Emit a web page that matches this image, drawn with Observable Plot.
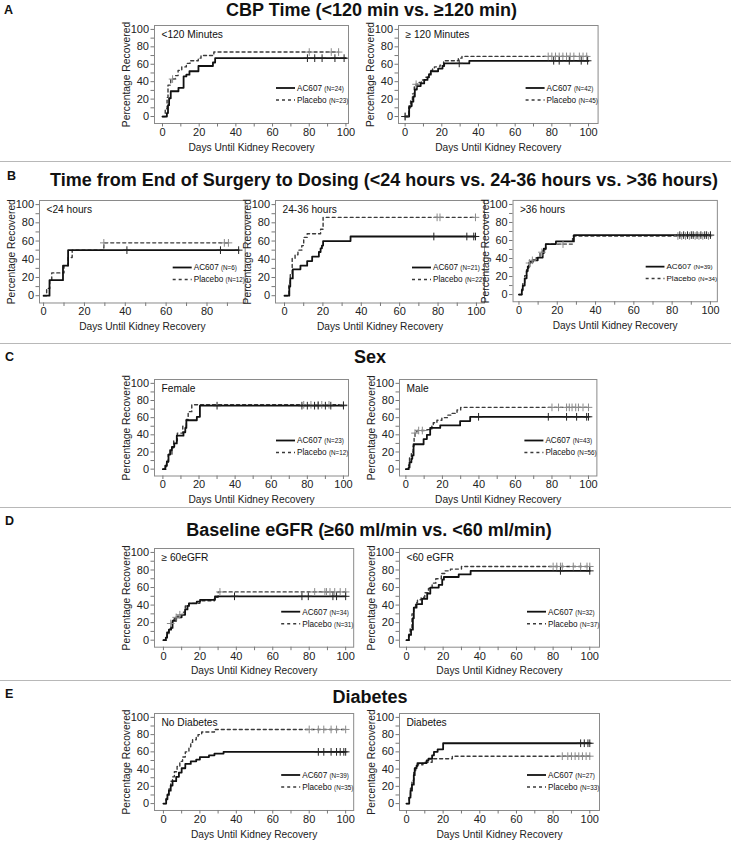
<!DOCTYPE html>
<html><head><meta charset="utf-8">
<script src="https://cdn.jsdelivr.net/npm/d3@7"></script>
<script src="https://cdn.jsdelivr.net/npm/@observablehq/plot@0.6"></script>
<style>
body{margin:0;background:#fff;}
#page{position:relative;width:731px;height:843px;overflow:hidden;background:#fff;font-family:"Liberation Sans",Arial,sans-serif;color:#111;}
.title{position:absolute;font-weight:bold;font-size:18px;white-space:nowrap;transform:translate(-50%,-50%);line-height:1;}
.letter{position:absolute;font-weight:bold;font-size:12.5px;transform:translateY(-50%);line-height:1;}
.divider{position:absolute;left:0;width:731px;height:0;border-top:1.6px solid #b8b8b8;}
.panel{position:absolute;}
</style></head><body><div id="page"></div>
<script>
// ---------- DATA ----------
const sectionLetters = ["A", "B", "C", "D", "E"];
const sectionTitles = [
  "CBP Time (<120 min vs. \u2265120 min)",
  "Time from End of Surgery to Dosing (<24 hours vs. 24-36 hours vs. >36 hours)",
  "Sex",
  "Baseline eGFR (\u226560 ml/min vs. <60 ml/min)",
  "Diabetes"
];
const panelLabels = ["<120 Minutes", "\u2265 120 Minutes", "<24 hours", "24-36 hours", ">36 hours",
  "Female", "Male", "\u2265 60eGFR", "<60 eGFR", "No Diabetes", "Diabetes"];
const nAC607 = [24, 42, 6, 21, 39, 23, 43, 34, 32, 39, 27];
const nPlacebo = [23, 45, 12, 22, 34, 12, 56, 31, 37, 35, 33];
const seriesNames = ["AC607", "Placebo"];
const yTickValues = [0, 10, 20, 30, 40, 50, 60, 70, 80, 90, 100];
const xTickValues = [0, 10, 20, 30, 40, 50, 60, 70, 80, 90, 100];
const xTickValuesShort = [0, 10, 20, 30, 40, 50, 60, 70, 80, 90];
const yAxisTitle = "Percentage Recovered";
const xAxisTitle = "Days Until Kidney Recovery";

// Kaplan-Meier step points [day, % recovered]; end = last follow-up day; censored days
const cbpLt120AC607 = [[0,0],[2.4,4],[3,13],[3.6,21],[4.5,29],[8.7,33],[11.5,46],[13,48],[14.7,52],[19.6,58],[27.5,62],[28.7,67]];
const cbpLt120AC607End = 100, cbpLt120AC607Cens = [79, 83, 87, 94, 99];
const cbpLt120Placebo = [[0,0],[1.5,9],[2.5,22],[3,36],[4.5,43],[7,47],[8.5,53],[10.5,57],[13,61],[15,64],[19.5,67],[21,70],[28,74]];
const cbpLt120PlaceboEnd = 96, cbpLt120PlaceboCens = [5.5, 80, 92, 96];

const cbpGe120AC607 = [[0,0],[2.2,12],[3.6,17],[4.5,23],[5.3,31],[6.4,35],[8.5,38],[10.4,42],[12.2,45],[13,48],[14,52],[18,55],[20.4,58],[21.3,61],[35,64]];
const cbpGe120AC607End = 100, cbpGe120AC607Cens = [0, 29.5, 81, 84, 89.5, 96, 99.5];
const cbpGe120Placebo = [[0,0],[2,10],[3,18],[4,26],[5,34],[6,37],[7,39],[9,42],[11,45],[13,49],[14,53],[15,56],[16,57],[19,59],[21,64],[29,67],[31,69]];
const cbpGe120PlaceboEnd = 100, cbpGe120PlaceboCens = [0, 6, 78, 80, 82, 84, 86, 88, 90, 92, 95, 97, 99];

const dosLt24AC607 = [[0,0],[2.9,17],[9.5,33],[12,50]];
const dosLt24AC607End = 95.5, dosLt24AC607Cens = [40.8, 86.6, 95.5];
const dosLt24Placebo = [[0,0],[1.5,8],[3,17],[4,25],[10,33],[12,42],[14,50],[29.5,58]];
const dosLt24PlaceboEnd = 91, dosLt24PlaceboCens = [29.5, 88.5, 90.5];

const dos24to36AC607 = [[0,0],[2.5,10],[3,19],[4.3,29],[8.3,33],[11.8,38],[14.4,43],[17.9,48],[18.8,52],[19.5,55],[20.1,60],[34.4,65]];
const dos24to36AC607End = 99.5, dos24to36AC607Cens = [77.8, 95, 98.6, 99.5];
const dos24to36Placebo = [[0,0],[2.3,14],[3,23],[4,41],[5.5,45],[7,50],[9,55],[10,64],[11.8,68],[18.8,73],[20.1,86]];
const dos24to36PlaceboEnd = 99.5, dos24to36PlaceboCens = [79.5, 81, 99.5];

const dosGt36AC607 = [[0,0],[1.5,5],[2,10],[3,18],[4,26],[4.6,31],[5.5,36],[7.2,38],[9.8,41],[12.4,46],[13,51],[14,56],[19.3,59],[28.7,66]];
const dosGt36AC607End = 100, dosGt36AC607Cens = [84, 86, 88, 90, 91, 93, 95, 97, 98, 100];
const dosGt36Placebo = [[0,0],[1.5,6],[2,12],[3,21],[4,29],[5,35],[6,38],[9,41],[11,47],[12.5,50],[14,56],[28,65]];
const dosGt36PlaceboEnd = 100, dosGt36PlaceboCens = [5.5, 7, 12, 23, 83, 85, 87, 89, 92, 94, 96, 99];

const femaleAC607 = [[0,0],[1.3,4],[2.2,9],[3.1,17],[4,22],[5,26],[6.3,30],[7.7,39],[11.4,43],[12.4,48],[13,57],[18.8,61],[20.5,74]];
const femaleAC607End = 100, femaleAC607Cens = [30, 77, 80, 84, 86, 90, 93, 100];
const femalePlacebo = [[0,0],[2,8],[3,17],[5,25],[6,33],[8,42],[11,50],[13,58],[14,67],[16,75]];
const femalePlaceboEnd = 100, femalePlaceboCens = [78, 82, 86, 88, 92, 100];

const maleAC607 = [[0,0],[1.5,2],[2,8],[3,12],[3.5,16],[4.2,29],[9.7,35],[11.5,40],[13.3,48],[18.8,51],[29.7,56],[35.2,61]];
const maleAC607End = 100, maleAC607Cens = [39.8, 78, 88, 93.5, 99, 100];
const malePlacebo = [[0,0],[1.5,5],[2,13],[3,20],[4,27],[4.5,37],[5,42],[6,45],[11.5,46],[14.2,50],[15,54],[17,57],[19.7,60],[23,63],[25,65],[28,69],[30,72]];
const malePlaceboEnd = 100, malePlaceboCens = [5, 7, 9, 80, 83.6, 88, 89.5, 91, 93, 94.5, 97, 100];

const egfrGe60AC607 = [[0,0],[1.3,3],[2,9],[3,12],[4.2,14],[5,22],[7,26],[10,29],[11.9,35],[13.2,39],[14,42],[18.3,44],[20.1,46],[28.3,50]];
const egfrGe60AC607End = 100, egfrGe60AC607Cens = [39, 76, 79.5, 93, 95, 100];
const egfrGe60Placebo = [[0,0],[2,6],[3,13],[4,19],[5,23],[6,26],[8,29],[11,32],[12,39],[14,42],[20,45],[28,49],[30,55]];
const egfrGe60PlaceboEnd = 100, egfrGe60PlaceboCens = [4, 7, 9, 31, 83, 88.6, 89.5, 91.4, 94, 97, 100];

const egfrLt60AC607 = [[0,0],[1.3,6],[2.5,12],[3.5,25],[4,37],[5.5,41],[8.5,47],[11.3,53],[13,60],[17.6,63],[19.5,69],[20.4,72],[28.5,75],[35,79]];
const egfrLt60AC607End = 100, egfrLt60AC607Cens = [84, 100];
const egfrLt60Placebo = [[0,0],[1.5,8],[2,14],[3,30],[4,38],[5,43],[6,46],[8,49],[10,54],[12,59],[14,65],[16,70],[19,76],[21,79],[24,81],[30,84]];
const egfrLt60PlaceboEnd = 100, egfrLt60PlaceboCens = [80, 82, 84, 85, 91, 95, 98.5, 100];

const noDiabAC607 = [[0,0],[1.5,5],[2.2,10],[3,15],[4,21],[5,26],[7,31],[8.5,36],[10,41],[12,46],[15,49],[18,51],[20,54],[25,56],[28,58],[33,60]];
const noDiabAC607End = 100, noDiabAC607Cens = [85, 88, 92, 95, 97, 99, 100];
const noDiabPlacebo = [[0,0],[1.5,6],[2.2,11],[3,17],[4,26],[5,31],[6,37],[7.5,43],[9,49],[10.5,54],[12,60],[14,66],[15,71],[16,74],[18,77],[19,80],[21,83],[28,86]];
const noDiabPlaceboEnd = 100, noDiabPlaceboCens = [80, 85, 88, 92, 95, 100];

const diabAC607 = [[0,0],[1.5,7],[2.2,15],[3,22],[4,33],[4.5,41],[5.5,44],[6,47],[11,50],[12,52],[14,56],[15,60],[17,63],[20,70]];
const diabAC607End = 100, diabAC607Cens = [95, 97, 99, 100];
const diabPlacebo = [[0,0],[1.5,9],[2.2,18],[3,27],[4,36],[5,42],[6,45],[9,48],[14,52],[25,55]];
const diabPlaceboEnd = 100, diabPlaceboCens = [85, 88, 90, 92, 94, 96, 98, 100];

const ac607Curves = [cbpLt120AC607, cbpGe120AC607, dosLt24AC607, dos24to36AC607, dosGt36AC607, femaleAC607, maleAC607, egfrGe60AC607, egfrLt60AC607, noDiabAC607, diabAC607];
const ac607Ends = [cbpLt120AC607End, cbpGe120AC607End, dosLt24AC607End, dos24to36AC607End, dosGt36AC607End, femaleAC607End, maleAC607End, egfrGe60AC607End, egfrLt60AC607End, noDiabAC607End, diabAC607End];
const ac607Cens = [cbpLt120AC607Cens, cbpGe120AC607Cens, dosLt24AC607Cens, dos24to36AC607Cens, dosGt36AC607Cens, femaleAC607Cens, maleAC607Cens, egfrGe60AC607Cens, egfrLt60AC607Cens, noDiabAC607Cens, diabAC607Cens];
const placeboCurves = [cbpLt120Placebo, cbpGe120Placebo, dosLt24Placebo, dos24to36Placebo, dosGt36Placebo, femalePlacebo, malePlacebo, egfrGe60Placebo, egfrLt60Placebo, noDiabPlacebo, diabPlacebo];
const placeboEnds = [cbpLt120PlaceboEnd, cbpGe120PlaceboEnd, dosLt24PlaceboEnd, dos24to36PlaceboEnd, dosGt36PlaceboEnd, femalePlaceboEnd, malePlaceboEnd, egfrGe60PlaceboEnd, egfrLt60PlaceboEnd, noDiabPlaceboEnd, diabPlaceboEnd];
const placeboCens = [cbpLt120PlaceboCens, cbpGe120PlaceboCens, dosLt24PlaceboCens, dos24to36PlaceboCens, dosGt36PlaceboCens, femalePlaceboCens, malePlaceboCens, egfrGe60PlaceboCens, egfrLt60PlaceboCens, noDiabPlaceboCens, diabPlaceboCens];

// ---------- LAYOUT ----------
const dividerY = [162, 344, 508, 681];
const titleLayout = [[371.5, 10], [384, 180], [370, 357], [369, 530], [370, 697]];
const letterLayout = [[4, 10], [7, 176], [5, 357], [5, 521], [5, 694]];
const panelLayout = [
  {f: [154.3, 348.3, 25, 123], xd: [-4.36, 101.4]},
  {f: [397.7, 597.3, 25, 123], xd: [-3.6, 105.2]},
  {f: [39.3, 245, 199.5, 302], xd: [-2, 98.7], short: true},
  {f: [275, 484, 199.5, 302], xd: [-4.7, 104.2]},
  {f: [513.3, 720, 199.5, 302], xd: [-3.1, 103.6]},
  {f: [154.3, 348.3, 378.5, 475], xd: [-4.65, 102.8]},
  {f: [399.3, 596.7, 378.5, 475], xd: [-3.5, 104.6]},
  {f: [154.3, 353.5, 548, 646.7], xd: [-4.9, 104.4]},
  {f: [399, 599, 548, 646.7], xd: [-3.8, 105.3]},
  {f: [154.3, 353.5, 713, 810], xd: [-4.9, 104.4]},
  {f: [399, 599, 713, 810], xd: [-3.8, 105.3]}
];
const yDomain = [-8, 104.5];

const page = document.getElementById("page");
dividerY.forEach(y => {
  const d = document.createElement("div"); d.className = "divider"; d.style.top = (y - 0.8) + "px"; page.appendChild(d);
});
sectionTitles.forEach((t, i) => {
  const d = document.createElement("div"); d.className = "title"; d.textContent = t;
  d.style.left = titleLayout[i][0] + "px"; d.style.top = titleLayout[i][1] + "px"; page.appendChild(d);
  const l = document.createElement("div"); l.className = "letter"; l.textContent = sectionLetters[i];
  l.style.left = letterLayout[i][0] + "px"; l.style.top = letterLayout[i][1] + "px"; page.appendChild(l);
});

function stepAt(pts, t) { let y = 0; for (const [tt, s] of pts) if (tt <= t) y = s; return y; }
function lineData(pts, end) { return [...pts.map(([t, s]) => ({t, s})), {t: end, s: pts[pts.length - 1][1]}]; }
function censData(pts, cens) { return cens.map(t => ({t, s: stepAt(pts, t)})); }

const mL = 42, mR = 14, mT = 6, mB = 34;
panelLayout.forEach((lay, i) => {
  const [fL, fR, fT, fB] = lay.f;
  const width = fR - fL + mL + mR, height = fB - fT + mT + mB;
  const xt = lay.short ? xTickValuesShort : xTickValues;
  const fmt = d => (d % 20 === 0 ? String(d) : "");
  const plot = Plot.plot({
    width, height, marginLeft: mL, marginRight: mR, marginTop: mT, marginBottom: mB,
    x: {domain: lay.xd, axis: null, label: null},
    y: {domain: yDomain, axis: null, label: null},
    style: {fontFamily: "Liberation Sans, Arial, sans-serif", fontSize: "11px", color: "#222", background: "none", overflow: "visible"},
    marks: [
      Plot.frame({stroke: "#8a8a8a", strokeWidth: 1}),
      Plot.axisX(xt, {anchor: "bottom", tickSize: 3.5, tickPadding: 1, tickFormat: fmt, label: null, stroke: "#777", fill: "#222", fontSize: 11}),
      Plot.axisY(yTickValues, {anchor: "left", tickSize: 3.5, tickPadding: 2, tickFormat: fmt, label: null, stroke: "#777", fill: "#222", fontSize: 11}),
      Plot.line(lineData(placeboCurves[i], placeboEnds[i]), {x: "t", y: "s", curve: "step-after", stroke: "#3a3a3a", strokeWidth: 1.4, strokeDasharray: "3,3"}),
      Plot.line(lineData(ac607Curves[i], ac607Ends[i]), {x: "t", y: "s", curve: "step-after", stroke: "#111", strokeWidth: 1.8}),
      Plot.dot(censData(placeboCurves[i], placeboCens[i]), {x: "t", y: "s", symbol: "plus", r: 2.6, stroke: "#8a8a8a", strokeWidth: 1}),
      Plot.dot(censData(ac607Curves[i], ac607Cens[i]), {x: "t", y: "s", symbol: "plus", r: 2.6, stroke: "#222", strokeWidth: 1}),
      Plot.text([panelLabels[i]], {frameAnchor: "top-left", dx: 7, dy: 9.5, textAnchor: "start", lineAnchor: "middle", fontSize: 10.2, fill: "#111"}),
      Plot.text([yAxisTitle], {frameAnchor: "left", dx: -28, rotate: -90, textAnchor: "middle", lineAnchor: "middle", fontSize: 10.3, fill: "#222"}),
      Plot.text([xAxisTitle], {frameAnchor: "bottom", dy: 24, textAnchor: "middle", lineAnchor: "middle", fontSize: 10.2, fill: "#222"})
    ]
  });
  // legend inside the frame, lower right
  const svg = d3.select(plot);
  const g = svg.append("g").attr("font-family", "Liberation Sans, Arial, sans-serif").attr("text-anchor", "start");
  const right = width - mR, bottom = height - mB;
  const rows = [{name: seriesNames[0], n: nAC607[i], dy: 35, solid: true}, {name: seriesNames[1], n: nPlacebo[i], dy: 23, solid: false}];
  rows.forEach(r => {
    const y = bottom - r.dy;
    g.append("line").attr("x1", right - 72).attr("x2", right - 53).attr("y1", y).attr("y2", y)
      .attr("stroke", r.solid ? "#111" : "#3a3a3a").attr("stroke-width", r.solid ? 1.8 : 1.4)
      .attr("stroke-dasharray", r.solid ? null : "3,3");
    const t = g.append("text").attr("x", right - 51).attr("y", y).attr("dy", "0.35em").attr("font-size", 8.2).attr("fill", "#111").attr("text-anchor", "start");
    t.append("tspan").text(r.name + " ");
    t.append("tspan").attr("font-size", 6.3).text("(N=" + r.n + ")");
  });
  const div = document.createElement("div"); div.className = "panel";
  div.style.left = (fL - mL) + "px"; div.style.top = (fT - mT) + "px";
  div.appendChild(plot); page.appendChild(div);
});
</script></body></html>
